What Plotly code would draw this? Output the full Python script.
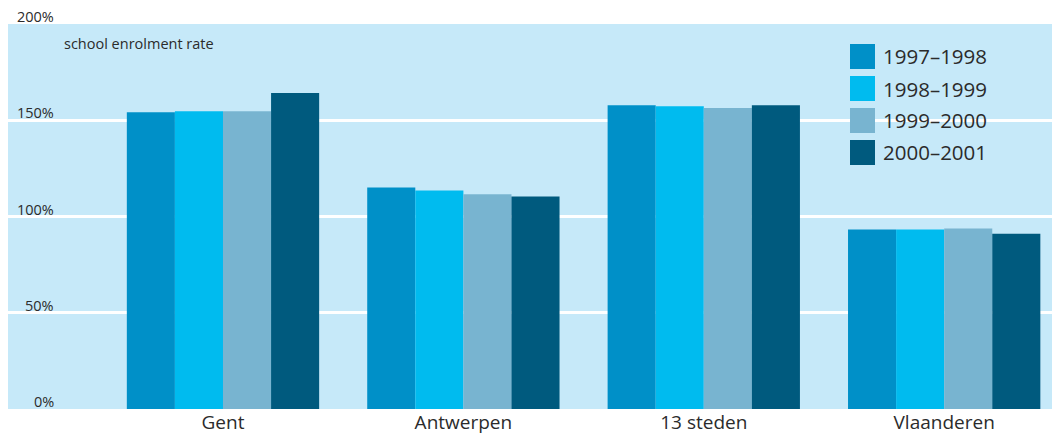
import plotly.graph_objects as go

# data
regions = ["Gent", "Antwerpen", "13 steden", "Vlaanderen"]
years = ["1997–1998", "1998–1999", "1999–2000", "2000–2001"]
rate_9798 = [154.2, 115.1, 157.8, 93.2]
rate_9899 = [154.7, 113.5, 157.3, 93.2]
rate_9900 = [154.7, 111.5, 156.3, 93.8]
rate_0001 = [164.1, 110.4, 157.8, 91.1]
y_ticks = [0, 50, 100, 150, 200]
y_tick_text = ["0%", "50%", "100%", "150%", "200%"]

COLORS = ["#0090c8", "#00bbef", "#78b4d0", "#005a7e"]
BG = "#c6e9f9"
FONT = "Open Sans, Lato, sans-serif"
TEXT = "#2b2b2b"

# the page body adds an 8px margin, so the figure is a bit smaller than the window
W, H = 1052, 427
PLOT_L, PLOT_T, PLOT_W, PLOT_H = 8, 24, 1052, 385  # plot area in window pixels


def px_x(x):
    return (x - PLOT_L) / PLOT_W


def px_y(y):
    return 1 - (y - PLOT_T) / PLOT_H


fig = go.Figure()
for name, vals, col in zip(years, [rate_9798, rate_9899, rate_9900, rate_0001], COLORS):
    fig.add_trace(go.Bar(x=regions, y=vals, name=name, marker_color=col,
                         marker_line_width=0, showlegend=False))

# y tick labels sit just above the gridlines, right-aligned
for v, t in zip(y_ticks, y_tick_text):
    fig.add_annotation(x=px_x(56), xref="paper", y=v, yref="y",
                       text=t, showarrow=False, xanchor="right", yanchor="bottom",
                       yshift=-4, font=dict(size=14.5, color=TEXT, family=FONT))

fig.add_annotation(x=px_x(62), xref="paper", y=px_y(43), yref="paper",
                   text="school enrolment rate", showarrow=False,
                   xanchor="left", yanchor="middle",
                   font=dict(size=14.5, color=TEXT, family=FONT))

# custom legend with large square swatches
for i, (name, col) in enumerate(zip(years, COLORS)):
    top = 44 + i * 32
    fig.add_shape(type="rect", xref="paper", yref="paper",
                  x0=px_x(850), x1=px_x(875), y0=px_y(top + 25), y1=px_y(top),
                  fillcolor=col, line_width=0, layer="above")
    fig.add_annotation(x=px_x(881), xref="paper", y=px_y(top + 12.5), yref="paper",
                       text=name, showarrow=False, xanchor="left", yanchor="middle",
                       font=dict(size=20.5, color=TEXT, family=FONT))

fig.update_layout(
    width=W, height=H,
    margin=dict(l=0, r=0, t=16, b=26, pad=0),
    paper_bgcolor="white",
    plot_bgcolor=BG,
    barmode="group",
    bargap=0.2,
    bargroupgap=0,
    font=dict(family=FONT, color=TEXT),
    xaxis=dict(range=[-0.8943, 3.4818], showgrid=False, zeroline=False, showline=False,
               ticks="", tickfont=dict(size=19, color=TEXT, family=FONT)),
    yaxis=dict(range=[0, 200], tickvals=y_ticks, showticklabels=False, showgrid=True,
               gridcolor="white", gridwidth=2.5, zeroline=False, showline=False, ticks=""),
)

fig.write_html("out.html")
